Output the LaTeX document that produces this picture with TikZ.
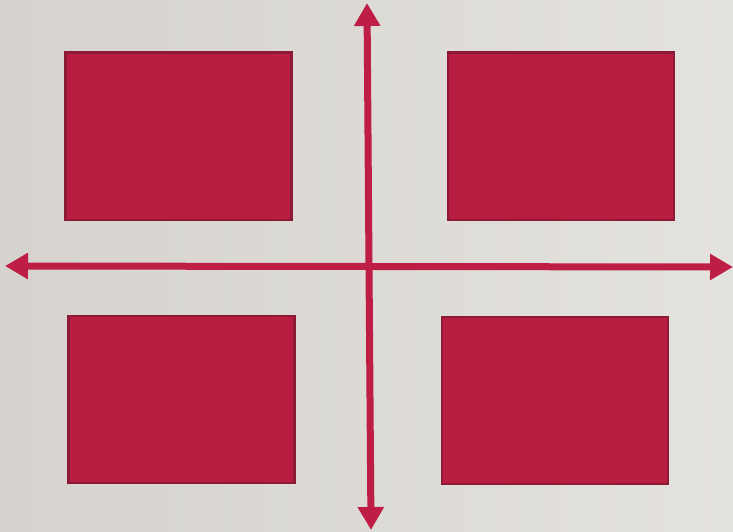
\documentclass[tikz,border=0pt]{standalone}
\usetikzlibrary{arrows.meta}
\definecolor{bgL}{HTML}{D6D3CE}
\definecolor{bgR}{HTML}{E4E2DE}
\definecolor{boxfill}{HTML}{B91E42}
\definecolor{boxedge}{HTML}{8C1A34}
\definecolor{axiscol}{HTML}{BE1E45}
\tikzset{
  quad/.style={draw=boxedge, fill=boxfill, line width=2.5pt, minimum width=226pt, minimum height=167pt, inner sep=0pt, anchor=north west},
  axisarrow/.style={draw=axiscol, line width=7pt, {Triangle[width=25pt,length=23pt]}-{Triangle[width=25pt,length=23pt]}, shorten <=0pt, shorten >=0pt}
}
\begin{document}
\begin{tikzpicture}[x=1pt,y=-1pt]
\useasboundingbox (0,0) rectangle (733,532);
\shade[left color=bgL, right color=bgR] (0,0) rectangle (733,532);
\node[quad] (tl) at (64,51.5) {};
\node[quad] (tr) at (446.5,51.5) {};
\node[quad] (bl) at (67,314.5) {};
\node[quad] (br) at (440.5,315.5) {};
\coordinate (top) at (367,3);
\coordinate (bottom) at (371,530);
\coordinate (left) at (5,266);
\coordinate (right) at (733,267);
\draw[axisarrow] (left) -- (right);
\draw[axisarrow] (bottom) -- (top);
\end{tikzpicture}
\end{document}
